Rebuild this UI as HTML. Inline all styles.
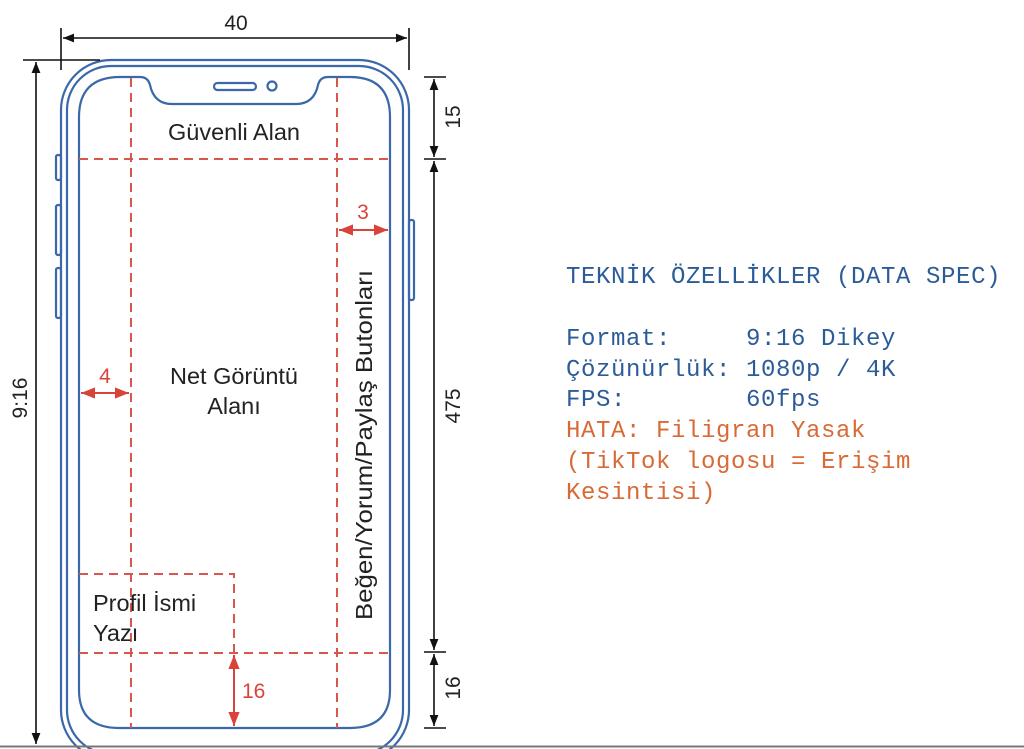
<!DOCTYPE html>
<html><head><meta charset="utf-8"><style>
html,body{margin:0;padding:0;background:#fff;}
svg{display:block;}
.s{font-family:"Liberation Sans",sans-serif;}
.m{font-family:"Liberation Mono",monospace;font-size:24px;letter-spacing:0.6px;white-space:pre;}
</style></head><body>
<svg width="1024" height="749" viewBox="0 0 1024 749" xmlns="http://www.w3.org/2000/svg">
<defs>
<marker id="ak" viewBox="0 0 10 10" refX="10" refY="5" markerWidth="7" markerHeight="7" orient="auto-start-reverse"><path d="M0,1 L10,5 L0,9 z" fill="#111"/></marker>
<marker id="ar" viewBox="0 0 10 10" refX="10" refY="5" markerWidth="7" markerHeight="7" orient="auto-start-reverse"><path d="M0,1 L10,5 L0,9 z" fill="#d9443a"/></marker>
</defs>
<g fill="none" stroke="#3a68a8" stroke-width="2.2">
<rect x="61" y="60" width="348" height="700" rx="50"/>
<rect x="67" y="66" width="336" height="688" rx="44"/>
<path d="M120,77 L140,77 Q148,77 150,85 Q154,104 172,104 L296,104 Q314,104 318,85 Q320,77 328,77 L350,77 Q390,77 390,117 L390,690 Q390,728 350,728 L119,728 Q79,728 79,690 L79,117 Q79,77 120,77 Z"/>
<rect x="214" y="83" width="42" height="7" rx="3.5"/>
<circle cx="272" cy="86" r="4.5"/>
<rect x="56" y="155" width="5" height="25" rx="2"/>
<rect x="56" y="205" width="5" height="50" rx="2"/>
<rect x="56" y="268" width="5" height="50" rx="2"/>
<rect x="409" y="220" width="5" height="80" rx="2"/>
</g>
<g stroke="#d9564c" stroke-width="2" stroke-dasharray="9,6" fill="none">
<line x1="131" y1="78" x2="131" y2="728"/>
<line x1="337" y1="78" x2="337" y2="728"/>
<line x1="79" y1="159" x2="390" y2="159"/>
<line x1="79" y1="653" x2="390" y2="653"/>
<polyline points="79,574 234,574 234,653"/>
</g>
<g stroke="#d9443a" stroke-width="2">
<line x1="339" y1="230" x2="388" y2="230" marker-start="url(#ar)" marker-end="url(#ar)"/>
<line x1="81" y1="393" x2="129" y2="393" marker-start="url(#ar)" marker-end="url(#ar)"/>
<line x1="234" y1="655" x2="234" y2="726" marker-start="url(#ar)" marker-end="url(#ar)"/>
</g>
<g class="s" fill="#d9443a" font-size="21">
<text x="363" y="219" text-anchor="middle">3</text>
<text x="105" y="383" text-anchor="middle">4</text>
<text x="242" y="698">16</text>
</g>
<g class="s" fill="#222" font-size="23.5">
<text x="234" y="140" text-anchor="middle">Güvenli Alan</text>
<text x="234" y="384" text-anchor="middle">Net Görüntü</text>
<text x="234" y="414" text-anchor="middle">Alanı</text>
<text x="93" y="611">Profil İsmi</text>
<text x="93" y="641">Yazı</text>
<text transform="translate(372,445) rotate(-90)" text-anchor="middle" font-size="23" textLength="350" lengthAdjust="spacingAndGlyphs">Beğen/Yorum/Paylaş Butonları</text>
</g>
<g stroke="#111" stroke-width="1.6" fill="none">
<line x1="61" y1="28" x2="61" y2="70"/>
<line x1="409" y1="28" x2="409" y2="70"/>
<line x1="63" y1="38" x2="407" y2="38" marker-start="url(#ak)" marker-end="url(#ak)"/>
<line x1="23" y1="60" x2="100" y2="60"/>
<line x1="36" y1="62" x2="36" y2="744" marker-start="url(#ak)" marker-end="url(#ak)"/>
<line x1="424" y1="77" x2="446" y2="77"/>
<line x1="424" y1="159" x2="446" y2="159"/>
<line x1="424" y1="652" x2="446" y2="652"/>
<line x1="424" y1="728" x2="446" y2="728"/>
<line x1="434" y1="79" x2="434" y2="157" marker-start="url(#ak)" marker-end="url(#ak)"/>
<line x1="434" y1="161" x2="434" y2="650" marker-start="url(#ak)" marker-end="url(#ak)"/>
<line x1="434" y1="654" x2="434" y2="726" marker-start="url(#ak)" marker-end="url(#ak)"/>
</g>
<line x1="0" y1="746.5" x2="1024" y2="746.5" stroke="#777" stroke-width="2"/>
<g class="s" fill="#222" font-size="21">
<text x="236" y="30" text-anchor="middle">40</text>
<text transform="translate(27,398) rotate(-90)" text-anchor="middle">9:16</text>
<text transform="translate(460,117) rotate(-90)" text-anchor="middle">15</text>
<text transform="translate(460,406) rotate(-90)" text-anchor="middle">475</text>
<text transform="translate(460,688) rotate(-90)" text-anchor="middle">16</text>
</g>
<g class="m" fill="#2b5c98">
<text x="566" y="283">TEKNİK ÖZELLİKLER (DATA SPEC)</text>
<text x="566" y="345">Format:&#160;&#160;&#160;&#160;&#160;9:16 Dikey</text>
<text x="566" y="376">Çözünürlük: 1080p / 4K</text>
<text x="566" y="406">FPS:&#160;&#160;&#160;&#160;&#160;&#160;&#160;&#160;60fps</text>
</g>
<g class="m" fill="#d86a36">
<text x="566" y="437">HATA: Filigran Yasak</text>
<text x="566" y="468">(TikTok logosu = Erişim</text>
<text x="566" y="499">Kesintisi)</text>
</g>
</svg>
</body></html>
